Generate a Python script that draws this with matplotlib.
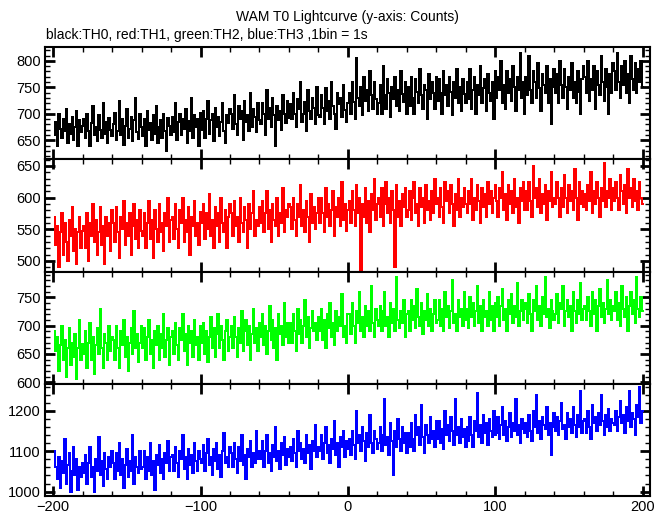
import numpy as np
import matplotlib
matplotlib.use("Agg")
import matplotlib.pyplot as plt
from matplotlib.ticker import MultipleLocator

plt.rcParams['font.family'] = ['Liberation Sans', 'DejaVu Sans']

# time bins, 1 bin = 1 s
t = list(range(-199, 201))

th0 = [
    660,685,640,700,672,655,690,668,710,645,680,662,695,650,675,705,640,688,666,678,
    690,655,700,668,640,682,715,660,675,648,698,670,655,720,662,685,645,692,670,658,
    680,702,650,668,725,660,690,642,678,710,655,672,695,648,688,730,665,652,700,676,
    658,690,640,705,670,682,650,698,662,715,645,675,688,655,700,668,630,692,678,660,
    695,665,720,650,684,700,660,690,672,710,645,686,668,730,655,698,675,690,640,702,
    670,705,655,690,725,662,688,700,648,712,676,695,658,684,720,668,645,698,682,710,
    700,672,735,680,660,715,690,705,650,725,685,698,668,740,676,710,695,665,720,688,
    680,720,700,660,745,690,712,675,730,698,640,715,688,705,670,735,700,682,725,692,
    718,690,740,700,675,728,710,760,685,700,722,668,745,705,690,730,712,680,750,698,
    695,735,712,680,748,705,725,690,760,715,700,672,740,718,730,695,755,708,685,720,
    740,700,760,722,690,805,730,715,750,698,770,725,745,705,780,735,710,760,728,700,
    720,755,700,790,735,710,765,740,695,750,728,770,715,745,705,780,738,722,760,700,
    750,715,770,730,700,765,742,720,785,735,710,755,745,690,775,728,760,740,710,770,
    725,765,740,700,780,735,755,715,770,742,698,760,730,785,720,750,705,765,738,720,
    760,728,785,710,745,770,700,755,735,790,720,748,765,705,775,740,725,760,690,780,
    730,770,745,800,720,755,710,780,740,765,725,790,750,705,770,745,815,730,760,700,
    770,735,810,745,720,780,760,730,795,748,705,775,755,740,790,720,765,680,750,785,
    740,775,720,800,755,730,785,750,710,770,745,795,730,760,720,780,742,700,765,790,
    770,740,800,725,765,745,790,710,780,755,735,810,760,725,785,750,700,775,740,795,
    780,745,815,760,730,790,755,800,740,775,720,810,765,745,795,740,785,760,800,750,
]

th1 = [
    570,525,555,490,545,575,510,560,530,500,565,540,585,515,550,495,545,570,520,548,
    555,520,575,500,560,540,590,530,565,510,545,585,525,555,495,570,540,560,515,580,
    560,530,585,545,505,570,550,595,525,560,540,575,510,555,590,535,565,520,580,548,
    540,575,520,560,595,535,565,505,580,550,530,590,545,560,515,575,555,600,530,565,
    570,535,590,550,520,580,560,600,530,565,545,585,510,570,555,595,540,560,525,578,
    560,590,535,575,550,605,540,565,520,585,555,575,530,600,560,545,580,520,570,590,
    575,540,595,555,570,530,600,560,545,585,565,520,590,550,575,610,540,565,555,585,
    560,595,545,575,610,550,580,530,590,565,555,600,540,575,560,615,545,580,570,590,
    585,550,600,565,540,590,570,620,555,580,545,595,570,530,605,560,585,550,575,600,
    560,600,575,545,615,570,590,555,580,610,540,585,570,600,555,625,565,590,548,580,
    595,560,610,580,555,620,575,600,485,590,570,615,560,595,545,605,580,630,565,590,
    600,570,615,555,590,625,575,600,560,610,580,490,620,570,595,555,605,585,615,570,
    580,610,565,600,625,575,590,555,615,585,600,560,620,580,595,565,610,575,630,590,
    600,570,615,585,560,625,595,610,575,620,590,555,605,580,630,570,600,585,615,590,
    575,610,590,630,565,600,580,620,595,560,615,585,605,570,625,590,610,575,600,620,
    595,570,615,600,640,580,605,565,620,590,610,575,630,585,600,560,615,595,625,580,
    610,580,625,595,570,650,600,615,585,630,575,605,590,620,565,610,595,640,585,600,
    590,625,600,570,615,585,635,600,575,620,595,610,580,645,600,565,625,590,610,585,
    605,580,620,595,640,575,610,590,625,600,570,615,595,655,585,610,600,630,580,615,
    595,625,600,580,635,610,590,620,575,645,600,615,585,630,595,610,580,625,600,590,
]

th2 = [
    690,655,680,620,665,700,640,675,610,660,695,630,670,645,685,605,660,710,640,668,
    650,690,625,670,705,640,680,615,665,695,650,730,660,625,685,670,640,700,655,680,
    675,640,700,660,625,690,665,710,645,680,620,670,695,650,725,660,685,635,670,700,
    660,695,640,680,710,650,675,625,690,665,700,640,685,660,720,645,675,695,630,680,
    690,650,705,665,640,695,675,720,655,685,630,700,670,690,645,710,665,680,640,700,
    670,705,650,690,635,680,715,660,695,645,685,720,660,700,675,640,690,710,655,680,
    700,660,715,680,645,695,670,725,655,690,710,665,700,640,685,730,670,695,655,705,
    680,720,665,700,650,690,735,675,710,660,695,640,720,685,700,665,740,680,705,670,
    705,670,720,690,655,730,685,710,670,700,745,680,715,660,695,725,690,705,675,715,
    690,730,675,710,660,720,695,740,680,705,665,725,690,715,700,755,680,700,670,720,
    720,685,740,700,670,725,705,760,690,715,680,735,700,725,690,770,705,680,730,710,
    700,735,690,725,760,700,715,680,740,705,730,690,785,710,695,725,705,745,680,720,
    725,690,745,710,735,695,765,715,700,740,685,725,710,755,700,730,690,720,745,705,
    710,745,700,730,690,760,715,735,695,725,780,705,720,690,745,715,730,700,760,710,
    730,695,750,715,740,700,725,770,705,735,690,745,715,725,700,760,710,735,690,740,
    715,750,700,735,765,710,730,690,745,720,755,705,735,715,775,700,725,745,710,730,
    740,705,755,720,690,745,725,770,710,735,700,750,720,785,715,730,695,745,725,710,
    720,755,705,740,730,770,700,725,745,715,735,690,760,725,705,745,720,775,710,730,
    735,710,750,725,700,760,720,745,690,735,765,715,740,705,730,780,720,745,710,735,
    725,760,710,740,700,770,730,715,750,690,735,760,720,745,705,785,730,715,750,725,
]

th3 = [
    1100,1060,1030,1085,1010,1075,1045,1130,1020,1065,1095,1000,1050,1110,1040,1080,1005,1060,1035,1070,
    1045,1090,1020,1070,1110,1035,1060,1000,1080,1050,1135,1040,1075,1015,1095,1055,1030,1085,1060,1100,
    1070,1030,1095,1050,1120,1040,1080,1010,1065,1105,1035,1075,1050,1140,1020,1085,1060,1045,1100,1055,
    1060,1100,1030,1085,1050,1120,1040,1075,1005,1090,1065,1115,1045,1080,1030,1095,1070,1125,1050,1085,
    1090,1050,1110,1070,1035,1100,1080,1140,1055,1085,1030,1105,1065,1090,1045,1120,1075,1050,1100,1080,
    1070,1115,1050,1095,1130,1065,1085,1040,1105,1075,1120,1055,1090,1035,1100,1145,1070,1085,1060,1110,
    1095,1060,1120,1080,1045,1110,1075,1140,1065,1090,1030,1105,1085,1125,1060,1095,1070,1150,1080,1100,
    1080,1125,1060,1100,1140,1070,1095,1050,1115,1085,1160,1075,1100,1055,1120,1090,1135,1065,1105,1085,
    1110,1075,1130,1095,1060,1150,1100,1120,1080,1105,1070,1140,1095,1115,1055,1125,1100,1165,1085,1110,
    1100,1140,1080,1120,1160,1095,1115,1070,1130,1105,1175,1090,1120,1060,1135,1110,1150,1085,1125,1105,
    1130,1090,1150,1115,1080,1200,1120,1140,1100,1160,1125,1075,1145,1110,1190,1120,1095,1150,1130,1105,
    1120,1160,1100,1140,1230,1115,1135,1090,1170,1125,1040,1150,1110,1180,1130,1100,1160,1120,1145,1095,
    1145,1110,1170,1130,1100,1190,1140,1160,1115,1215,1135,1095,1165,1140,1120,1185,1130,1150,1110,1175,
    1130,1175,1120,1155,1105,1200,1140,1165,1125,1185,1150,1115,1230,1140,1160,1120,1180,1135,1155,1110,
    1160,1125,1185,1140,1110,1175,1150,1245,1135,1165,1120,1190,1145,1170,1115,1180,1150,1135,1200,1140,
    1145,1185,1130,1165,1210,1140,1175,1125,1160,1195,1135,1170,1150,1230,1140,1165,1120,1180,1155,1145,
    1170,1135,1190,1150,1125,1200,1160,1240,1145,1175,1130,1185,1165,1155,1210,1140,1170,1090,1160,1195,
    1150,1185,1140,1175,1220,1155,1165,1130,1195,1160,1180,1145,1210,1165,1135,1190,1160,1250,1145,1175,
    1180,1145,1200,1160,1130,1215,1170,1185,1150,1195,1165,1240,1175,1140,1190,1160,1205,1150,1180,1170,
    1165,1200,1150,1185,1225,1170,1190,1145,1210,1175,1250,1160,1195,1180,1140,1215,1185,1260,1170,1200,
]

series = [th0, th1, th2, th3]
colors = ['black', '#ff0000', '#00ff00', '#0000ff']
ylims = [(615, 826), (483, 661), (597, 795), (989, 1267)]
ymajor = [50, 50, 50, 100]
yminor = [10, 10, 10, 20]

fig = plt.figure(figsize=(6.69, 5.15), dpi=100)
left, width = 0.0673, 0.9043
bottoms = [0.6913, 0.4724, 0.2544, 0.0369]
heights = [0.2174, 0.2190, 0.2180, 0.2175]

for i in range(4):
    ax = fig.add_axes([left, bottoms[i], width, heights[i]])
    ax.plot(t, series[i], drawstyle='steps-mid', color=colors[i], lw=1.4,
            antialiased=False)
    ax.set_xlim(-205.5, 205)
    ax.set_ylim(*ylims[i])
    ax.xaxis.set_major_locator(MultipleLocator(100))
    ax.xaxis.set_minor_locator(MultipleLocator(20))
    ax.yaxis.set_major_locator(MultipleLocator(ymajor[i]))
    ax.yaxis.set_minor_locator(MultipleLocator(yminor[i]))
    ax.tick_params(which='both', direction='in', top=True, right=True,
                   labelsize=10.5, pad=3)
    ax.tick_params(which='major', length=7, width=2)
    ax.tick_params(which='minor', length=3.5, width=1)
    for s in ax.spines.values():
        s.set_linewidth(1.5)
    if i < 3:
        ax.tick_params(labelbottom=False)

fig.text(0.519, 0.967, 'WAM T0 Lightcurve (y-axis: Counts)', ha='center', va='center', fontsize=10)
fig.text(0.069, 0.932, 'black:TH0, red:TH1, green:TH2, blue:TH3 ,1bin = 1s', ha='left', va='center', fontsize=10)

fig.savefig('out.png', dpi=100)
